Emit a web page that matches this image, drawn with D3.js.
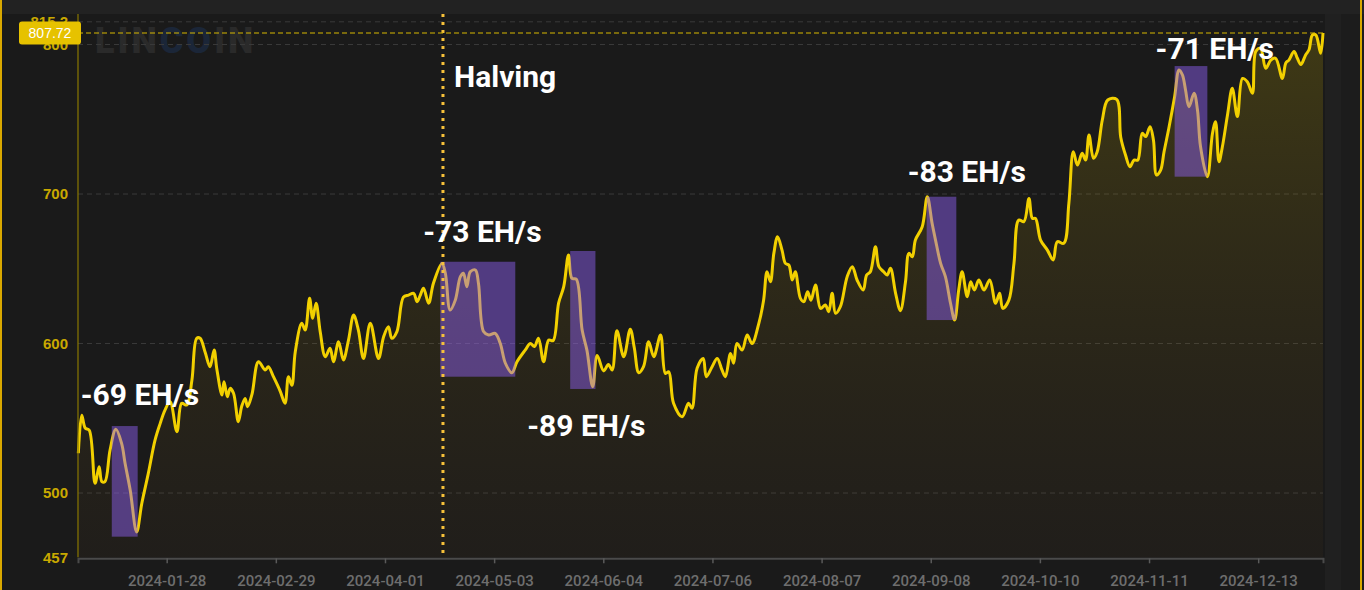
<!DOCTYPE html>
<html><head><meta charset="utf-8">
<script src="https://cdn.jsdelivr.net/npm/d3@7"></script>
<style>html,body{margin:0;padding:0;background:#1b1b1b;overflow:hidden}</style>
</head><body><svg id="c" width="1364" height="590"></svg>
<script>
// ---- data ----
// day of year 2024 (fractional) and network hashrate (EH/s)
const dayOfYear = [2.1,3.1,4.1,5.3,7.0,8.2,9.0,9.9,11.4,13.1,14.8,15.8,17.3,19.2,20.7,22.6,24.6,26.1,27.5,29.0,31.0,32.4,33.9,35.4,36.8,37.8,39.3,40.7,41.9,42.7,44.2,44.8,45.8,46.6,47.6,49.0,50.0,51.0,51.7,53.0,54.9,56.9,57.8,59.3,61.3,62.7,63.7,64.7,65.7,67.6,68.6,69.9,70.8,71.8,73.0,74.5,75.9,76.9,78.4,79.8,81.3,82.8,84.2,85.7,87.7,90.1,91.6,93.0,94.0,95.5,97.4,98.9,100.4,101.4,102.3,103.3,104.8,106.2,108.7,109.7,111.1,112.6,114.1,115.0,116.0,117.0,118.5,119.4,120.9,122.4,124.3,125.8,127.3,129.2,130.7,133.1,134.6,135.8,137.0,138.5,140.0,141.3,142.9,144.4,145.8,146.8,148.1,149.8,151.2,152.9,154.2,156.1,157.5,158.6,160.0,162.0,163.9,165.1,166.4,167.8,169.3,170.8,172.8,174.2,175.2,176.6,179.1,181.0,182.0,183.5,185.3,186.2,187.9,189.4,190.8,191.8,193.3,194.2,195.2,196.7,198.2,199.6,201.6,203.0,204.0,205.0,206.0,207.1,208.4,209.4,210.4,211.4,212.3,213.8,214.8,215.9,216.9,218.2,219.7,221.1,222.1,223.1,224.1,225.5,227.5,229.0,230.4,232.2,233.2,234.3,235.8,236.8,238.2,239.2,240.2,241.7,243.1,244.6,245.6,246.6,247.5,249.5,251.0,252.4,253.4,254.9,256.3,257.8,259.0,260.2,261.2,262.7,263.7,264.8,266.1,267.6,269.3,271.0,272.2,273.1,274.9,276.4,277.8,279.3,280.8,281.8,282.7,284.2,286.2,287.9,289.1,291.0,292.5,293.8,295.0,296.4,297.4,298.4,299.7,300.8,302.3,303.9,306.5,307.7,309.1,310.4,311.6,312.7,314.0,315.0,316.3,317.3,318.2,319.4,320.4,321.8,323.5,324.8,325.8,326.7,327.7,329.2,330.2,331.1,333.1,334.6,335.5,336.5,337.5,339.0,340.4,341.9,343.4,344.8,346.3,347.3,348.7,350.2,351.7,353.1,355.1,356.1,357.0,358.5,359.5,360.5,361.9,362.9,363.9,364.9,366.3,367.0];
const hashrate = [526.6,552,543.5,542,506.5,517.6,507.6,507.6,528.8,542.6,533,519.9,502,474,493,513,535.5,546.6,555.5,561,541,560,558.9,575.6,603.5,603.5,594,584.5,595.6,583,565.5,574.5,564.4,570,566.7,547.7,558,563.3,557.7,566,587.8,582.3,584.5,577.8,568,560,577.8,572,594.5,613.5,609,630.2,616.9,627,608,591.2,596.8,587.8,601.2,589,602.3,619,609,590,613.5,590,604.5,611.2,603.5,608,631,632.4,633.6,628,632,637,627,640.3,653.6,647,622.4,629,644.7,647,638,648,649.2,640.3,608,605.7,606.8,600,586.8,580.5,587.8,595.6,600,598,603.5,587.8,602.3,602,627,638,659.2,643.6,643,609,595.6,571.1,592,581.7,586,582.3,608.5,591.2,609.6,597,580.5,584.5,601.2,591.2,605.7,580,581,560,551,560,556.7,583.4,590,577.8,584.5,590,582.3,577.8,593.4,586.8,600,595.6,605.7,600,613.5,629,648,641.3,660.3,671.5,662.5,653.6,652.5,642.5,648,630.2,628,634.6,629,639.1,623.5,625.8,621.3,633.6,620.2,624.6,644.7,651.4,642.5,635.8,645.8,648,664.7,651.4,648,645.8,650.3,633.6,622,641.3,660.3,658,669.2,678.1,698.2,680.4,669.2,653.6,644.7,626.9,615.7,635.8,648,631.3,641.3,635.8,642.5,635.8,642.5,626.9,633.6,623.5,629,653.6,682.6,681.5,697,683.7,683.7,669.2,662.5,655.9,668.1,667,693.9,728.3,719.4,727.2,722.7,739.5,723.9,728.3,749.5,762.9,763.3,738,726.1,718.3,722.7,722.7,740.6,738.4,745,736,712.7,716,728.3,744,765.1,783,779.6,769.6,758.4,767.4,756.2,731.6,711.6,740.6,748.4,721.6,731.6,752.9,770.7,751.8,777.3,775.1,767.4,795.4,797.4,784.1,789.6,790.8,777.3,787.7,789.6,795.4,790.8,786.6,793,796.5,806.4,806.4,794.1,807.72];
const yTickValues = [457, 500, 600, 700, 800, 815.2];
const xTickDates = ["2024-01-28","2024-02-29","2024-04-01","2024-05-03","2024-06-04","2024-07-06","2024-08-07","2024-09-08","2024-10-10","2024-11-11","2024-12-13"];
const xDomainDates = ["2024-01-02","2025-01-01"];
const halvingDate = "2024-04-18";
const halvingLabel = "Halving";
// hashrate drop windows
const dropLabels = ["-69 EH/s","-73 EH/s","-89 EH/s","-83 EH/s","-71 EH/s"];
const dropStartDay = [11.9, 108.2, 146.3, 250.8, 323.5];
const dropEndDay = [19.5, 130.2, 153.7, 259.5, 333.1];
const dropHigh = [544.8, 654.7, 661.9, 698.2, 785.6];
const dropLow = [470.8, 577.8, 569.6, 615.7, 711.6];

// ---- layout ----
const W = 1364, H = 590;
const plot = {left: 78, right: 1323, top: 21.8, bottom: 557.3};
const labelOffsets = [[-31, -21], [-17, -20], [-43, 185], [-19, -15], [-19, -7]];

const dayToDate = d => new Date(Date.UTC(2024, 0, 1) + (d - 1) * 864e5);
const parse = d3.utcParse("%Y-%m-%d");
const data = dayOfYear.map((d, i) => ({date: dayToDate(d), v: hashrate[i]}));

const svg = d3.select("#c");
const defs = svg.append("defs");

// background / frame
svg.append("rect").attr("width", W).attr("height", H).attr("fill", "#1c1c1c");
svg.append("rect").attr("x", 0).attr("y", 0).attr("width", W).attr("height", 14).attr("fill", "#222222");
svg.append("rect").attr("x", 0).attr("y", 14).attr("width", plot.right + 2).attr("height", H - 14).attr("fill", "#1a1a1a");
svg.append("rect").attr("x", plot.right + 2).attr("y", 14).attr("width", 16).attr("height", H - 14).attr("fill", "#202020");
svg.append("rect").attr("x", 0).attr("y", 0).attr("width", 2).attr("height", H).attr("fill", "#d9a800");
svg.append("rect").attr("x", 1360).attr("y", 0).attr("width", 2).attr("height", H).attr("fill", "#d9a800");

const x = d3.scaleUtc().domain(xDomainDates.map(parse)).range([plot.left, plot.right]);
const y = d3.scaleLinear().domain([457, 815.2]).range([plot.bottom, plot.top]);

// watermark
const wm = svg.append("text").attr("x", 95).attr("y", 53)
  .attr("font-family", "Roboto, 'Noto Sans', sans-serif").attr("font-weight", 900)
  .attr("font-size", 36).attr("letter-spacing", 3).attr("fill", "#2a2a2a");
wm.append("tspan").text("LIN");
wm.append("tspan").attr("fill", "#1b2638").text("CO");
wm.append("tspan").text("IN");

// gridlines
svg.append("g").selectAll("line").data(yTickValues.filter(v => v !== 457)).join("line")
  .attr("x1", plot.left).attr("x2", plot.right)
  .attr("y1", d => y(d)).attr("y2", d => y(d))
  .attr("stroke", "#3a3a3a").attr("stroke-width", 1).attr("stroke-dasharray", "5,4");

// area gradient
const grad = defs.append("linearGradient").attr("id", "ag").attr("gradientUnits", "userSpaceOnUse")
  .attr("x1", 0).attr("x2", 0).attr("y1", plot.top).attr("y2", plot.bottom);
grad.append("stop").attr("offset", "0%").attr("stop-color", "#d8bc00").attr("stop-opacity", 0.2);
grad.append("stop").attr("offset", "100%").attr("stop-color", "#6a4a20").attr("stop-opacity", 0.08);

const curve = d3.curveCatmullRom.alpha(0.5);
const area = d3.area().x(d => x(d.date)).y0(y(457)).y1(d => y(d.v)).curve(curve);
const line = d3.line().x(d => x(d.date)).y(d => y(d.v)).curve(curve);

svg.append("path").datum(data).attr("d", area).attr("fill", "url(#ag)");
svg.append("path").datum(data).attr("d", line).attr("fill", "none")
  .attr("stroke", "#f2d000").attr("stroke-width", 3).attr("stroke-linejoin", "round");

// drop boxes
svg.append("g").selectAll("rect").data(dropLabels).join("rect")
  .attr("x", (d, i) => x(dayToDate(dropStartDay[i])))
  .attr("width", (d, i) => x(dayToDate(dropEndDay[i])) - x(dayToDate(dropStartDay[i])))
  .attr("y", (d, i) => y(dropHigh[i]))
  .attr("height", (d, i) => y(dropLow[i]) - y(dropHigh[i]))
  .attr("fill", "#9464ff").attr("fill-opacity", 0.45);

// y axis line
svg.append("line").attr("x1", plot.left).attr("x2", plot.left).attr("y1", 14).attr("y2", plot.bottom)
  .attr("stroke", "#8a7800").attr("stroke-width", 1.2);

// y tick labels
svg.append("g").selectAll("text").data(yTickValues).join("text")
  .attr("x", 68).attr("y", d => y(d)).attr("dy", "0.36em").attr("text-anchor", "end")
  .attr("font-family", "'Liberation Sans', Arial, sans-serif").attr("font-weight", 700)
  .attr("font-size", 15).attr("fill", "#c9a900").text(d => d3.format("")(d));

// x axis
const xAxis = d3.axisBottom(x).tickValues(xTickDates.map(parse)).tickFormat(d3.utcFormat("%Y-%m-%d")).tickSize(5).tickPadding(12);
const gx = svg.append("g").attr("transform", `translate(0,${plot.bottom + 1})`).call(xAxis);
gx.select(".domain").attr("stroke", "#4a4a4a").attr("stroke-width", 2);
gx.selectAll(".tick line").attr("stroke", "#5a5a5a").attr("stroke-width", 1.5);
gx.selectAll(".tick text").attr("fill", "#6e6e6e").attr("font-size", 15)
  .attr("font-family", "Roboto, 'Liberation Sans', sans-serif").attr("font-weight", 500);

// halving line
const hx = x(parse(halvingDate));
svg.append("line").attr("x1", hx).attr("x2", hx).attr("y1", 14).attr("y2", 554)
  .attr("stroke", "#f7c13a").attr("stroke-width", 3).attr("stroke-dasharray", "3,5");
svg.append("text").attr("x", hx + 11).attr("y", 87).text(halvingLabel)
  .attr("font-family", "Roboto, sans-serif").attr("font-weight", 700).attr("font-size", 30).attr("fill", "#ffffff");

// drop labels
svg.append("g").selectAll("text").data(dropLabels).join("text")
  .attr("x", (d, i) => x(dayToDate(dropStartDay[i])) + labelOffsets[i][0])
  .attr("y", (d, i) => y(dropHigh[i]) + labelOffsets[i][1])
  .attr("font-family", "Roboto, sans-serif").attr("font-weight", 700).attr("font-size", 30)
  .attr("fill", "#ffffff").text(d => d);

// current value line + badge
const last = data[data.length - 1];
svg.append("line").attr("x1", plot.left).attr("x2", plot.right).attr("y1", y(last.v)).attr("y2", y(last.v))
  .attr("stroke", "#d8b800").attr("stroke-width", 1.2).attr("stroke-dasharray", "5,3");
svg.append("rect").attr("x", 19).attr("y", y(last.v) - 11.5).attr("width", 62).attr("height", 23).attr("rx", 3)
  .attr("fill", "#e6c200");
svg.append("text").attr("x", 50).attr("y", y(last.v)).attr("dy", "0.36em").attr("text-anchor", "middle")
  .attr("font-family", "'Liberation Sans', Arial, sans-serif").attr("font-size", 14).attr("fill", "#ffffff")
  .text(last.v.toFixed(2));
</script></body></html>
